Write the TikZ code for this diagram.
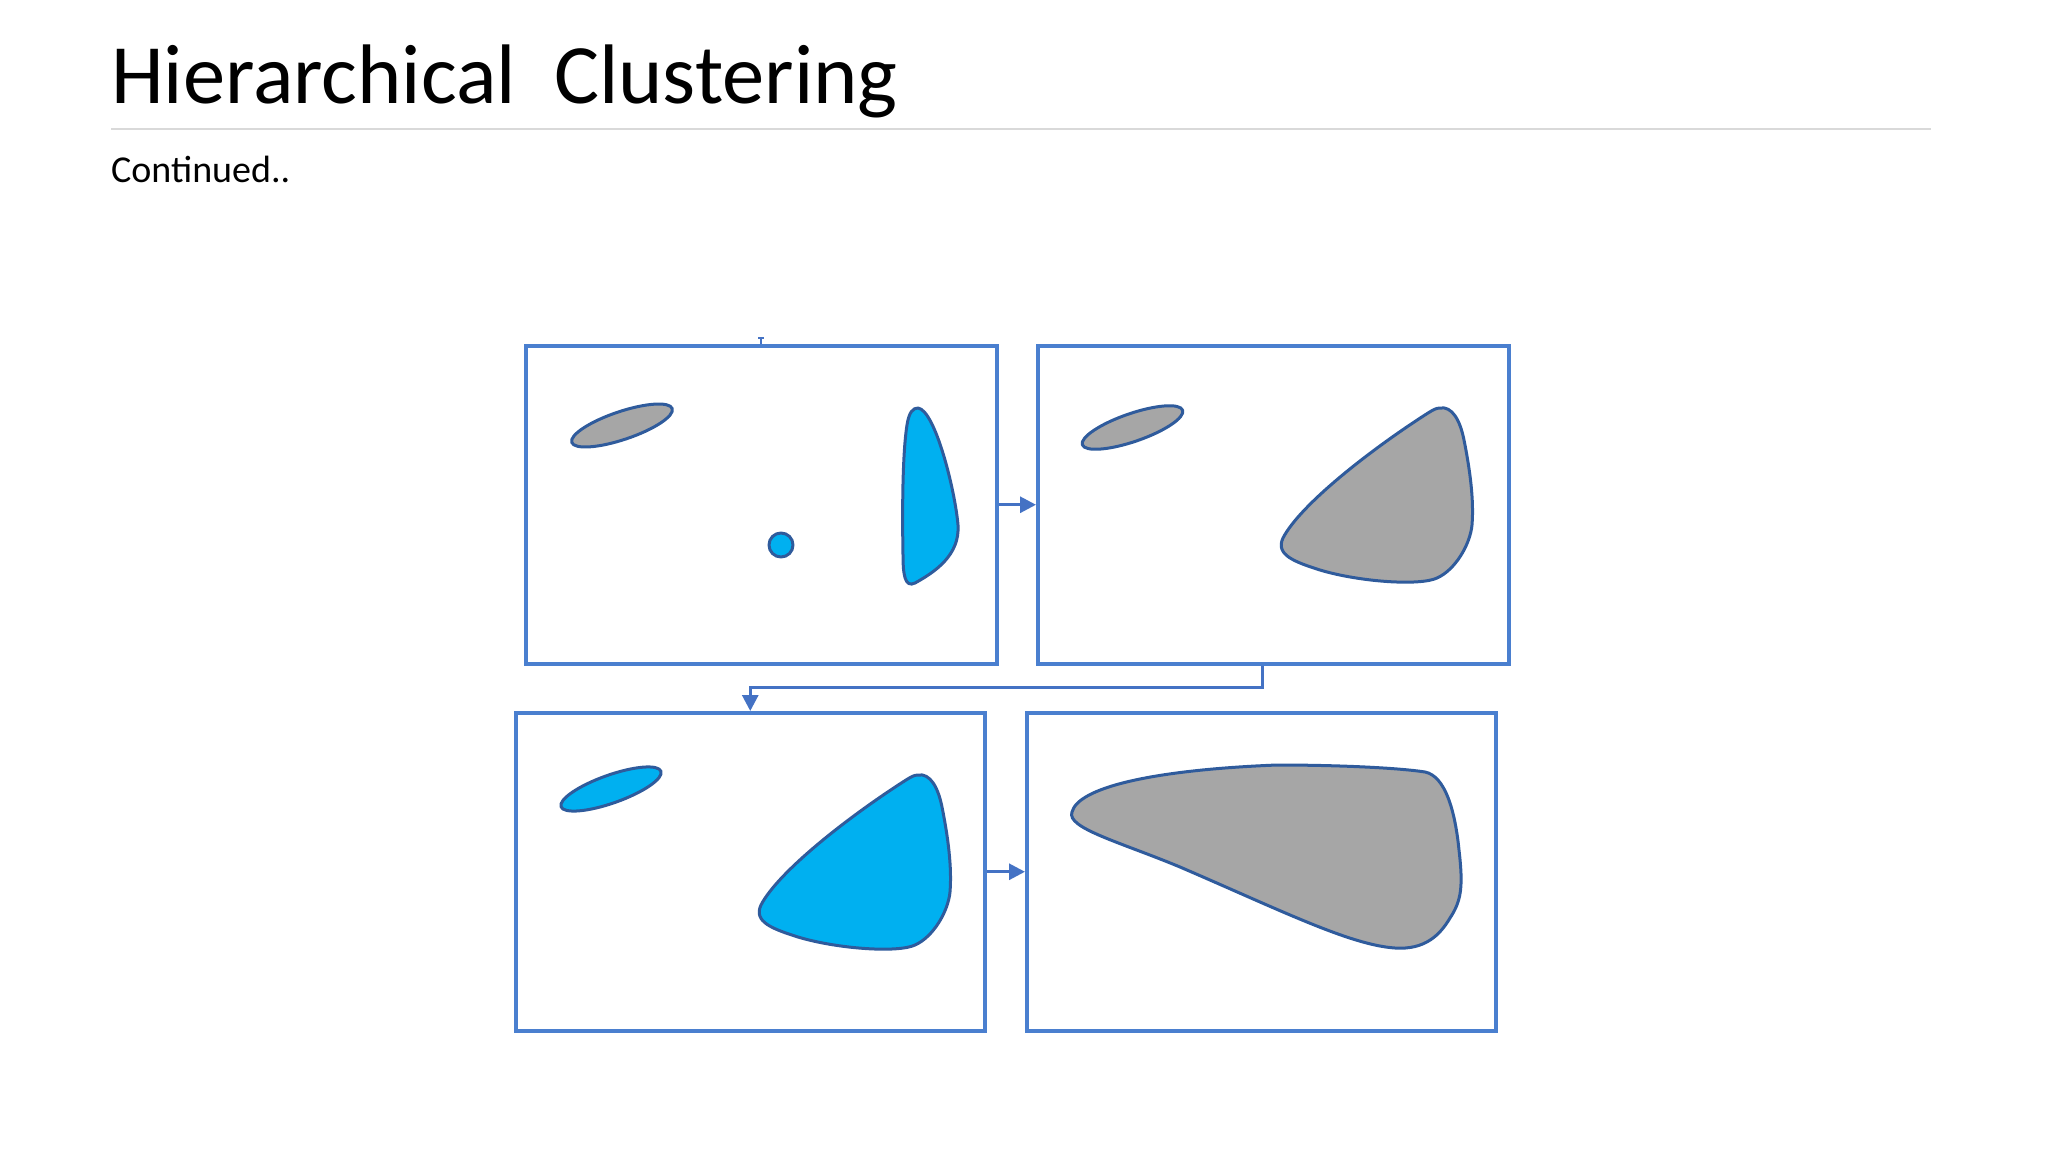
\documentclass[tikz,border=0pt]{standalone}
\usepackage{fontspec}
\setmainfont{Carlito}
\usetikzlibrary{arrows.meta}
\definecolor{boxblue}{HTML}{4A7FCF}
\definecolor{edgeblue}{HTML}{2F5B9C}
\definecolor{fillblue}{HTML}{00B0F0}
\definecolor{fillgray}{HTML}{A6A6A6}
\definecolor{arrowblue}{HTML}{4472C4}
\definecolor{rulegray}{HTML}{D9D9D9}
\newcommand\triblobpath{(1440,408) .. controls (1452,406) and (1460,420) .. (1464,440)
  .. controls (1470,470) and (1474,500) .. (1472,525)
  .. controls (1470,545) and (1455,570) .. (1437,578)
  .. controls (1420,586) and (1360,582) .. (1320,570)
  .. controls (1295,562) and (1275,555) .. (1283,538)
  .. controls (1300,505) and (1370,450) .. (1428,413)
  .. controls (1433,410) and (1436,408) .. (1440,408) -- cycle}
\begin{document}
\begin{tikzpicture}[x=1pt,y=-1pt,
  panel/.style={draw=boxblue, line width=3.5pt, minimum height=318pt, anchor=north west, inner sep=0pt, fill=white},
  blob/.style={draw=edgeblue, line width=3pt, line join=round},
  conn/.style={draw=arrowblue, line width=3pt, -{Triangle[length=16pt,width=16pt]}},
  txt/.style={anchor=base west, inner sep=0pt, text=black}
]
\useasboundingbox[fill=white] (0,0) rectangle (2048,1152);

% header
\node[txt, font=\fontsize{84.5}{92}\selectfont] (title) at (111,103) {Hierarchical\ \ Clustering};
\coordinate (r1) at (111,129);
\coordinate (r2) at (1931,129);
\draw[rulegray, line width=2pt] (r1) -- (r2);
\node[txt, font=\fontsize{38}{44}\selectfont] (sub) at (111,182) {Continued..};

% panels
\node[panel, minimum width=471pt] (b1) at (524,344) {};
\node[panel, minimum width=471pt] (b2) at (1036,344) {};
\node[panel, minimum width=469pt] (b3) at (514,711) {};
\node[panel, minimum width=469pt] (b4) at (1025,711) {};

% panel 1
\draw[blob, fill=fillgray, rotate around={18.6:(622,425.5)}] (622,425.5) ellipse [x radius=53, y radius=14];
\draw[blob, fill=fillblue] (781,545) circle [radius=12];
\draw[blob, fill=fillblue] (918,408) .. controls (935,410) and (955,490) .. (958,525)
  .. controls (960,555) and (935,572) .. (915,583)
  .. controls (905,588) and (903,575) .. (903,555)
  .. controls (902,500) and (903,450) .. (907,425)
  .. controls (909,412) and (913,408) .. (918,408) -- cycle;

% panel 2
\draw[blob, fill=fillgray, rotate around={19:(1132.5,427.5)}] (1132.5,427.5) ellipse [x radius=53, y radius=14];
\draw[blob, fill=fillgray] \triblobpath;

% panel 3
\draw[blob, fill=fillblue, rotate around={19.5:(611,789)}] (611,789) ellipse [x radius=53, y radius=14];
\begin{scope}[shift={(-522,367)}]
\draw[blob, fill=fillblue] \triblobpath;
\end{scope}

% panel 4
\draw[blob, fill=fillgray] (1072,812) .. controls (1078,788) and (1150,770) .. (1277,765)
  .. controls (1340,765) and (1400,768) .. (1425,772)
  .. controls (1445,776) and (1455,810) .. (1459,850)
  .. controls (1463,885) and (1462,900) .. (1450,918)
  .. controls (1440,935) and (1425,950) .. (1395,948)
  .. controls (1350,945) and (1280,910) .. (1180,867)
  .. controls (1120,842) and (1066,828) .. (1072,812) -- cycle;

% connectors
\draw[conn] (b1.east) -- (b2.west);
\coordinate (j1) at (1262,687);
\draw[conn] (b2.south -| j1) -- (j1) -| (b3.north);
\draw[conn] (b3.east) -- (b4.west);
\coordinate (tk) at ([yshift=6pt]b1.north);
\draw[arrowblue, line width=2pt] (b1.north) -- (tk);
\draw[arrowblue, line width=1.5pt] ([xshift=-3pt]tk) -- ([xshift=3pt]tk);
\end{tikzpicture}
\end{document}
